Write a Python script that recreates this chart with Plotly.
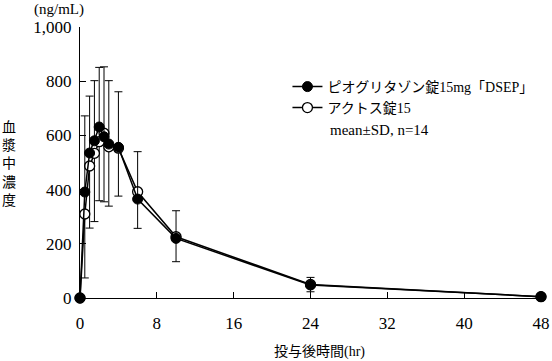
import plotly.graph_objects as go

time_hr = [0, 0.5, 1, 1.5, 2, 2.5, 3, 4, 6, 10, 24, 48]
dsep_mean = [0, 391, 535, 580, 631, 595, 568, 556, 365, 220, 48, 5]
dsep_sd = [0, 281, 210, 222, 220, 258, 234, 205, 175, 102, 28, 3]
actos_mean = [0, 310, 487, 534, 577, 608, 558, 553, 392, 226, 50, 5]
actos_sd = [0, 236, 229, 252, 218, 253, 219, 177, 135, 92, 27, 3]
zeros = [0] * len(time_hr)

x_ticks = [0, 8, 16, 24, 32, 40, 48]
y_ticks = [0, 200, 400, 600, 800, 1000]
y_ticktext = ["0", "200", "400", "600", "800", "1,000"]

SERIF = "Liberation Serif, Noto Sans CJK JP, serif"

fig = go.Figure()
fig.add_trace(go.Scatter(
    x=time_hr, y=actos_mean, mode="lines+markers", name="アクトス錠15",
    legend="legend2",
    line=dict(color="black", width=1.5),
    marker=dict(symbol="circle", size=10, color="white", line=dict(color="black", width=1.3)),
    error_y=dict(type="data", symmetric=False, array=zeros, arrayminus=actos_sd,
                 color="black", thickness=1, width=4),
    cliponaxis=False,
))
fig.add_trace(go.Scatter(
    x=time_hr, y=dsep_mean, mode="lines+markers", name="ピオグリタゾン錠15mg「DSEP」",
    legend="legend",
    line=dict(color="black", width=1.5),
    marker=dict(symbol="circle", size=10, color="black", line=dict(color="black", width=1)),
    error_y=dict(type="data", symmetric=False, array=dsep_sd, arrayminus=zeros,
                 color="black", thickness=1, width=4),
    cliponaxis=False,
))

legend_common = dict(
    xanchor="left", yanchor="middle", itemwidth=30,
    font=dict(family=SERIF, size=14, color="black"),
    bgcolor="rgba(0,0,0,0)", borderwidth=0,
)

fig.update_layout(
    width=552, height=361,
    margin=dict(l=80, r=11, t=27, b=63, autoexpand=False),
    paper_bgcolor="white", plot_bgcolor="white",
    font=dict(family=SERIF, color="black", size=17),
    showlegend=True,
    legend=dict(x=0.45, y=(298 - 87) / 271, **legend_common),
    legend2=dict(x=0.45, y=(298 - 108) / 271, **legend_common),
    xaxis=dict(
        range=[0, 48], tickvals=x_ticks, ticktext=[str(v) for v in x_ticks],
        showline=True, linecolor="black", linewidth=1,
        ticks="inside", ticklen=6, tickcolor="black", tickwidth=1,
        showgrid=False, zeroline=False, ticklabelstandoff=10, automargin=False,
        tickfont=dict(size=17),
    ),
    yaxis=dict(
        range=[0, 1000], tickvals=y_ticks, ticktext=y_ticktext,
        showline=True, linecolor="black", linewidth=1,
        ticks="inside", ticklen=6, tickcolor="black", tickwidth=1,
        showgrid=False, zeroline=False, ticklabelstandoff=4, automargin=False,
        tickfont=dict(size=17),
    ),
    annotations=[
        dict(text="(ng/mL)", xref="paper", yref="paper", x=(59 - 80) / 461, y=(298 - 10) / 271,
             xanchor="center", yanchor="middle", showarrow=False, font=dict(size=15)),
        dict(text="血<br>漿<br>中<br>濃<br>度", xref="paper", yref="paper", x=(9 - 80) / 461,
             y=(298 - 164) / 271, xanchor="center", yanchor="middle", showarrow=False,
             font=dict(size=14)),
        dict(text="投与後時間(hr)", xref="paper", yref="paper", x=(319 - 80) / 461,
             y=(298 - 352) / 271, xanchor="center", yanchor="middle", showarrow=False,
             font=dict(size=14)),
        dict(text="mean±SD, n=14", xref="paper", yref="paper", x=(328 - 80) / 461,
             y=(298 - 130) / 271, xanchor="left", yanchor="middle", showarrow=False,
             font=dict(size=15)),
    ],
)

fig.write_html(
    "out.html",
    config={"displayModeBar": False},
    post_script="document.body.style.margin='0';document.body.style.padding='0';",
)
